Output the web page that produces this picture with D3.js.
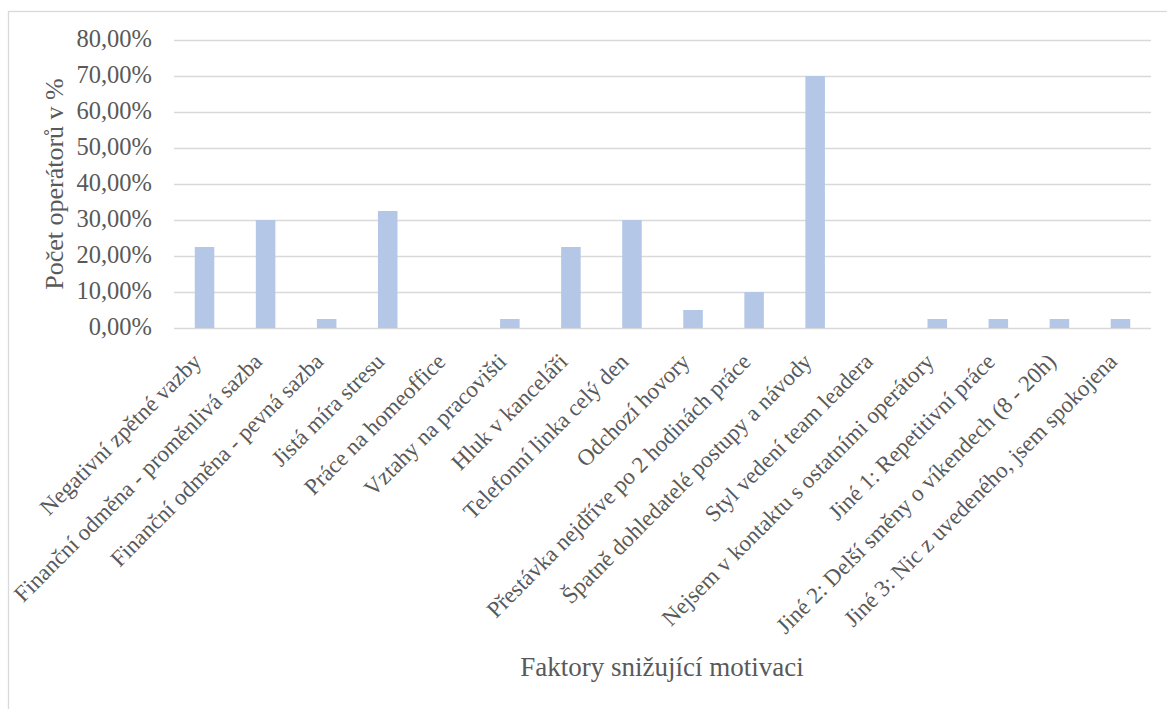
<!DOCTYPE html>
<html>
<head>
<meta charset="utf-8">
<script src="https://cdn.jsdelivr.net/npm/d3@7"></script>
<style>
  body { margin: 0; background: #fff; }
  svg text { font-family: "Liberation Serif", "Times New Roman", serif; fill: #595959; }
</style>
</head>
<body>
<div id="chart"></div>
<script>
const categories = [
    "Negativní zpětné vazby",
    "Finanční odměna - proměnlivá sazba",
    "Finanční odměna - pevná sazba",
    "Jistá míra stresu",
    "Práce na homeoffice",
    "Vztahy na pracovišti",
    "Hluk v kanceláři",
    "Telefonní linka celý den",
    "Odchozí hovory",
    "Přestávka nejdříve po 2 hodinách práce",
    "Špatně dohledatelé postupy a návody",
    "Styl vedení team leadera",
    "Nejsem v kontaktu s ostatními operátory",
    "Jiné 1: Repetitivní práce",
    "Jiné 2: Delší směny o víkendech (8 - 20h)",
    "Jiné 3: Nic z uvedeného, jsem spokojena"
];
const values = [22.5, 30, 2.5, 32.5, 0, 2.5, 22.5, 30, 5, 10, 70, 0, 2.5, 2.5, 2.5, 2.5];
const yTicks = [0, 10, 20, 30, 40, 50, 60, 70, 80];
const yTitle = "Počet operátorů v %";
const xTitle = "Faktory snižující motivaci";

const width = 1167, height = 709;
const plot = { left: 174, right: 1151, top: 40, bottom: 328 };

const svg = d3.select("#chart").append("svg")
    .attr("width", width)
    .attr("height", height);

// chart frame (only top and left edges are visible in the picture)
svg.append("rect")
    .attr("x", 8.5).attr("y", 11.5)
    .attr("width", width + 20).attr("height", height + 20)
    .attr("fill", "none")
    .attr("stroke", "#d9d9d9")
    .attr("stroke-width", 1.3);

const x = d3.scaleBand()
    .domain(categories)
    .range([plot.left, plot.right])
    .paddingInner(0.68)
    .paddingOuter(0.34);

const y = d3.scaleLinear()
    .domain([0, 80])
    .range([plot.bottom, plot.top]);

const fmt = d => d3.format(".2f")(d).replace(".", ",") + "%";

// gridlines + y labels
const yAxis = svg.append("g")
    .attr("transform", `translate(${plot.left},0)`)
    .call(d3.axisLeft(y)
        .tickValues(yTicks)
        .tickSize(-(plot.right - plot.left))
        .tickPadding(22)
        .tickFormat(fmt));
yAxis.select(".domain").remove();
yAxis.selectAll(".tick line").attr("stroke", "#d9d9d9").attr("stroke-width", 1.5);
yAxis.selectAll(".tick text")
    .attr("dy", "0.28em")
    .style("font-size", "24.5px");

// bars
svg.append("g").selectAll("rect")
    .data(values)
    .join("rect")
    .attr("x", (d, i) => x(categories[i]))
    .attr("y", d => y(d))
    .attr("width", x.bandwidth())
    .attr("height", d => y(0) - y(d))
    .attr("fill", "#b4c7e7");

// x labels, rotated like the original
svg.append("g").selectAll("text")
    .data(categories)
    .join("text")
    .attr("transform", d => `translate(${x(d) + x.bandwidth() / 2 - 2},${plot.bottom + 35}) rotate(-45)`)
    .attr("text-anchor", "end")
    .style("font-size", "23px")
    .text(d => d);

// axis titles
svg.append("text")
    .attr("transform", `translate(63,${(plot.top + plot.bottom) / 2}) rotate(-90)`)
    .attr("text-anchor", "middle")
    .style("font-size", "26px")
    .text(yTitle);

svg.append("text")
    .attr("x", 662)
    .attr("y", 676)
    .attr("text-anchor", "middle")
    .style("font-size", "27px")
    .text(xTitle);
</script>
</body>
</html>
